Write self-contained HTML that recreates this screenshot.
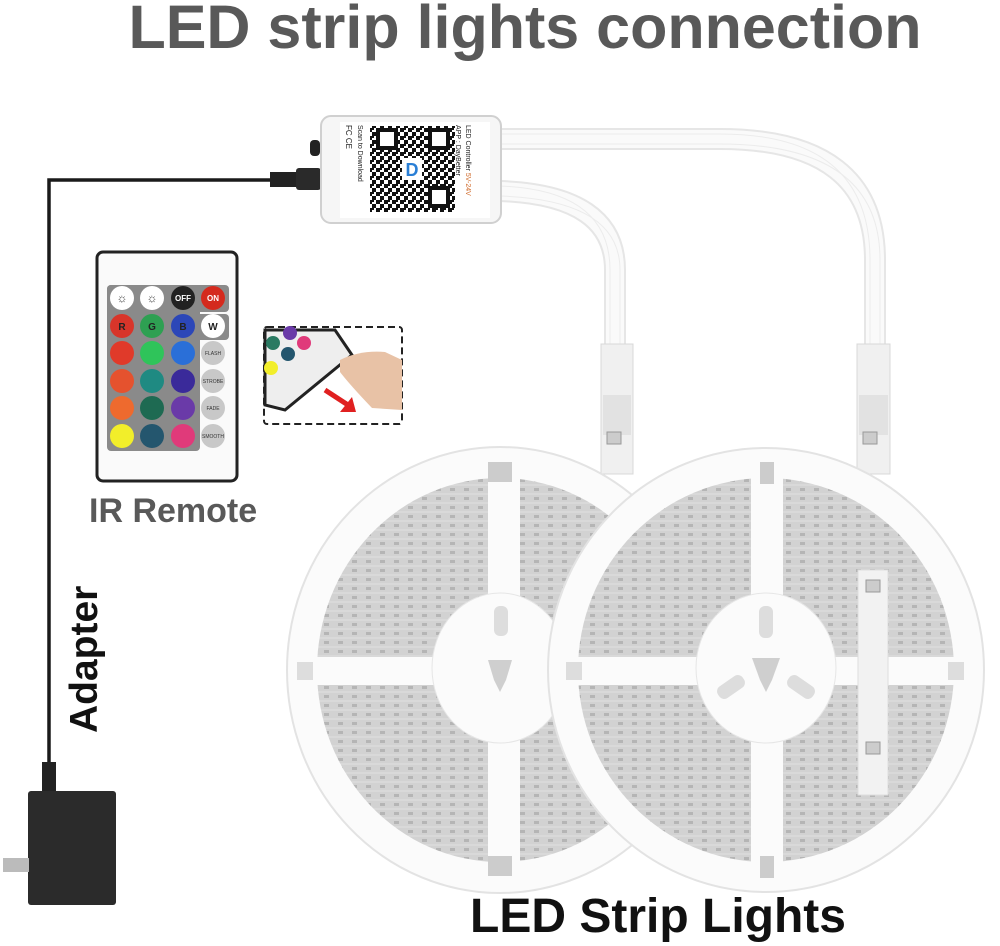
<!DOCTYPE html>
<html><head><style>
html,body{margin:0;padding:0;background:#fff;}
svg{display:block;}
</style></head><body>
<svg width="1000" height="946" viewBox="0 0 1000 946" xmlns="http://www.w3.org/2000/svg" font-family="Liberation Sans, sans-serif">
<defs>
<pattern id="leds" width="14" height="9" patternUnits="userSpaceOnUse">
<rect width="14" height="9" fill="#d2d2d2"/>
<rect x="2" y="2" width="5" height="3" fill="#b5b5b5"/>
<line x1="0" y1="8" x2="14" y2="8" stroke="#e0e0e0" stroke-width="1"/>
</pattern>
<pattern id="qr" width="8" height="8" patternUnits="userSpaceOnUse">
<rect width="8" height="8" fill="#fff"/>
<rect x="0" y="0" width="4" height="4" fill="#111"/>
<rect x="4" y="4" width="4" height="4" fill="#111"/>
<rect x="4" y="0" width="2" height="2" fill="#111"/>
</pattern>
</defs>
<text x="525" y="48" text-anchor="middle" font-size="61" font-weight="bold" fill="#595959">LED strip lights connection</text>

<g fill="none" stroke="#e6e6e6" stroke-width="22">
<path d="M500 139 H720 Q875 139 875 260 V350"/>
<path d="M500 191 Q615 195 615 270 V350"/>
</g>
<g fill="none" stroke="#fafafa" stroke-width="18">
<path d="M500 139 H720 Q875 139 875 260 V350"/>
<path d="M500 191 Q615 195 615 270 V350"/>
</g>
<g fill="none" stroke="#ececec" stroke-width="1">
<path d="M500 134 H720 Q870 134 870 260 V350"/>
<path d="M500 144 H720 Q880 144 880 260 V350"/>
<path d="M500 186 Q610 190 610 270 V350"/>
<path d="M500 196 Q620 200 620 270 V350"/>
</g>
<rect x="601" y="344" width="32" height="130" fill="#f0f0f0" stroke="#d8d8d8"/>
<rect x="603" y="395" width="28" height="40" fill="#e2e2e2"/>
<rect x="607" y="432" width="14" height="12" fill="#ccc" stroke="#999"/>
<rect x="857" y="344" width="33" height="130" fill="#f0f0f0" stroke="#d8d8d8"/>
<rect x="859" y="395" width="29" height="40" fill="#e2e2e2"/>
<rect x="863" y="432" width="14" height="12" fill="#ccc" stroke="#999"/>

<g>
<ellipse cx="500" cy="670" rx="213" ry="223" fill="#fbfbfb" stroke="#e3e3e3" stroke-width="2"/>
<ellipse cx="500" cy="670" rx="183" ry="192" fill="url(#leds)"/>
<rect x="488" y="470" width="32" height="400" fill="#fbfbfb"/>
<rect x="300" y="657" width="400" height="28" fill="#fbfbfb"/>
<ellipse cx="500" cy="668" rx="68" ry="75" fill="#fbfbfb" stroke="#e6e6e6"/>
<rect x="494" y="606" width="14" height="30" rx="6" fill="#ddd"/>
<path d="M488 660 L512 660 L506 680 L500 692 L494 680 Z" fill="#cfcfcf"/>
<rect x="297" y="662" width="16" height="18" fill="#ddd"/>
</g>
<g>
<ellipse cx="766" cy="670" rx="218" ry="222" fill="#fbfbfb" stroke="#e3e3e3" stroke-width="2"/>
<ellipse cx="766" cy="670" rx="188" ry="192" fill="url(#leds)"/>
<rect x="751" y="470" width="32" height="400" fill="#fbfbfb"/>
<rect x="565" y="657" width="400" height="28" fill="#fbfbfb"/>
<ellipse cx="766" cy="668" rx="70" ry="75" fill="#fbfbfb" stroke="#e6e6e6"/>
<rect x="759" y="606" width="14" height="32" rx="6" fill="#ddd"/>
<path d="M752 658 L780 658 L772 680 L766 692 L760 680 Z" fill="#cfcfcf"/>
<rect x="716" y="680" width="30" height="14" rx="6" fill="#ddd" transform="rotate(-35 731 687)"/>
<rect x="786" y="680" width="30" height="14" rx="6" fill="#ddd" transform="rotate(35 801 687)"/>
<rect x="566" y="662" width="16" height="18" fill="#ddd"/>
<rect x="948" y="662" width="16" height="18" fill="#ddd"/>
<rect x="760" y="462" width="14" height="22" fill="#ccc"/>
<rect x="760" y="856" width="14" height="22" fill="#ccc"/>
<rect x="858" y="570" width="30" height="225" fill="#f2f2f2" stroke="#ddd"/>
<rect x="866" y="580" width="14" height="12" fill="#ccc" stroke="#999"/>
<rect x="866" y="742" width="14" height="12" fill="#ccc" stroke="#999"/>
</g>
<rect x="488" y="462" width="24" height="20" fill="#ccc"/>
<rect x="488" y="856" width="24" height="20" fill="#ccc"/>

<path d="M295 180 H49 V770" fill="none" stroke="#1a1a1a" stroke-width="3.5"/>
<rect x="270" y="172" width="26" height="15" fill="#222"/>
<rect x="296" y="168" width="25" height="22" rx="3" fill="#2a2a2a"/>
<rect x="310" y="140" width="10" height="16" rx="4" fill="#222"/>
<rect x="42" y="762" width="14" height="30" fill="#222"/>
<rect x="28" y="791" width="88" height="114" rx="3" fill="#2b2b2b"/>
<rect x="3" y="858" width="26" height="14" fill="#bbb"/>
<text transform="translate(97 733) rotate(-90)" font-size="39" font-weight="bold" fill="#111">Adapter</text>

<rect x="321" y="116" width="180" height="107" rx="10" fill="#f6f6f6" stroke="#d0d0d0" stroke-width="2"/>
<rect x="340" y="122" width="150" height="96" fill="#fff"/>
<rect x="370" y="126" width="85" height="86" fill="url(#qr)"/>
<rect x="378" y="130" width="18" height="18" fill="#fff" stroke="#111" stroke-width="4"/>
<rect x="430" y="130" width="18" height="18" fill="#fff" stroke="#111" stroke-width="4"/>
<rect x="430" y="188" width="18" height="18" fill="#fff" stroke="#111" stroke-width="4"/>
<rect x="402" y="158" width="20" height="22" fill="#fff"/>
<text x="412" y="176" font-size="18" font-weight="bold" fill="#2a7fd6" text-anchor="middle">D</text>
<text transform="translate(466 125) rotate(90)" font-size="7" fill="#222">LED Controller <tspan fill="#d06a2a">5V-24V</tspan></text>
<text transform="translate(456 125) rotate(90)" font-size="7" fill="#222">APP : DayBetter</text>
<text transform="translate(358 125) rotate(90)" font-size="7" fill="#222">Scan to Download</text>
<text transform="translate(346 125) rotate(90)" font-size="8" fill="#222">FC CE</text>

<rect x="97" y="252" width="140" height="229" rx="6" fill="#fafafa" stroke="#222" stroke-width="3"/>
<rect x="107" y="285" width="93" height="166" rx="4" fill="#8a8a8a"/>
<rect x="107" y="285" width="122" height="27" rx="4" fill="#8a8a8a"/>
<rect x="107" y="314" width="122" height="26" rx="4" fill="#8a8a8a"/>
<g font-size="8" font-weight="bold" text-anchor="middle">
<circle cx="122" cy="298" r="12" fill="#fff"/><circle cx="152" cy="298" r="12" fill="#fff"/>
<circle cx="183" cy="298" r="12" fill="#222"/><circle cx="213" cy="298" r="12" fill="#d42a1e"/>
<text x="183" y="301" fill="#fff">OFF</text><text x="213" y="301" fill="#fff">ON</text>
<text x="122" y="302" font-size="12" fill="#333">☼</text><text x="152" y="302" font-size="12" fill="#333">☼</text>
<circle cx="122" cy="326" r="12" fill="#d8352a"/><circle cx="152" cy="326" r="12" fill="#2ea052"/>
<circle cx="183" cy="326" r="12" fill="#2c47b8"/><circle cx="213" cy="326" r="12" fill="#fff"/>
<text x="122" y="330" font-size="10" fill="#222">R</text><text x="152" y="330" font-size="10" fill="#222">G</text>
<text x="183" y="330" font-size="10" fill="#222">B</text><text x="213" y="330" font-size="10" fill="#222">W</text>
<circle cx="122" cy="353" r="12" fill="#e03a2a"/><circle cx="152" cy="353" r="12" fill="#2fc45a"/><circle cx="183" cy="353" r="12" fill="#2a6fd8"/>
<circle cx="122" cy="381" r="12" fill="#e5522e"/><circle cx="152" cy="381" r="12" fill="#1f8a82"/><circle cx="183" cy="381" r="12" fill="#3a2a9a"/>
<circle cx="122" cy="408" r="12" fill="#ee6a2e"/><circle cx="152" cy="408" r="12" fill="#1e6a52"/><circle cx="183" cy="408" r="12" fill="#6a3aa8"/>
<circle cx="122" cy="436" r="12" fill="#f2ee2a"/><circle cx="152" cy="436" r="12" fill="#24566e"/><circle cx="183" cy="436" r="12" fill="#e03a7a"/>
<g fill="#c8c8c8"><circle cx="213" cy="353" r="12"/><circle cx="213" cy="381" r="12"/><circle cx="213" cy="408" r="12"/><circle cx="213" cy="436" r="12"/></g>
<g font-size="5" fill="#333" font-weight="normal"><text x="213" y="355">FLASH</text><text x="213" y="383">STROBE</text><text x="213" y="410">FADE</text><text x="213" y="438">SMOOTH</text></g>
</g>
<text x="89" y="522" font-size="34" font-weight="bold" fill="#595959">IR Remote</text>

<rect x="264" y="327" width="138" height="97" rx="3" fill="#fff" stroke="#222" stroke-width="2" stroke-dasharray="7 4"/>
<path d="M265 330 H335 L352 355 L285 410 L265 405 Z" fill="#eee" stroke="#222" stroke-width="3"/>
<circle cx="273" cy="343" r="7" fill="#2a7a62"/><circle cx="290" cy="333" r="7" fill="#6a3aa8"/><circle cx="304" cy="343" r="7" fill="#e03a7a"/>
<circle cx="288" cy="354" r="7" fill="#24566e"/><circle cx="271" cy="368" r="7" fill="#f2ee2a"/>
<path d="M340 360 Q360 350 385 352 L402 360 L402 410 L372 408 Q350 385 340 372 Z" fill="#e8c2a6"/>
<path d="M325 390 L348 405" stroke="#e02020" stroke-width="5"/>
<path d="M340 412 L356 412 L352 397 Z" fill="#e02020"/>

<text x="658" y="932" text-anchor="middle" font-size="48" font-weight="bold" fill="#111">LED Strip Lights</text>
</svg>
</body></html>
